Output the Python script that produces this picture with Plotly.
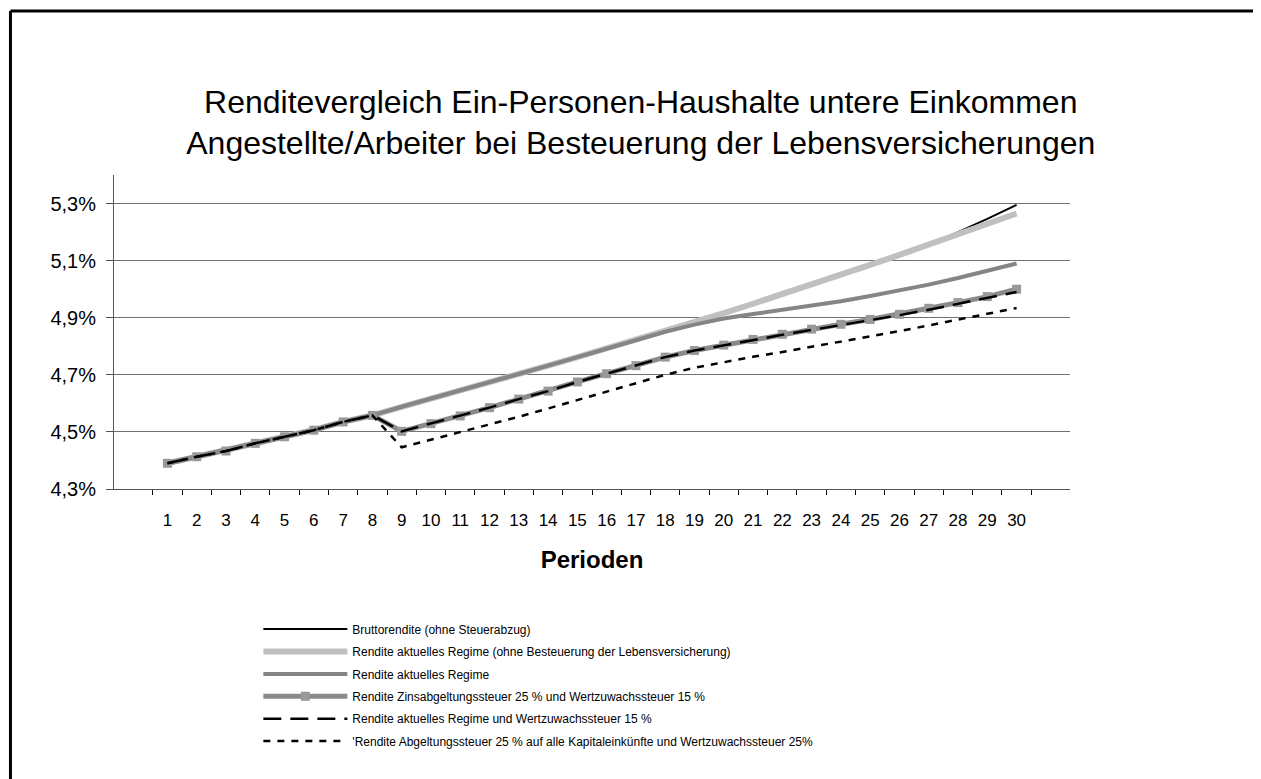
import plotly.graph_objs as go

periods = [str(i) for i in range(1, 31)]

brutto = [4.390, 4.413, 4.435, 4.460, 4.484, 4.507, 4.535, 4.558, 4.588, 4.616,
          4.645, 4.674, 4.703, 4.732, 4.762, 4.792, 4.822, 4.853, 4.884, 4.916,
          4.949, 4.982, 5.016, 5.050, 5.085, 5.120, 5.157, 5.200, 5.246, 5.295]

ohne_lv = [4.390, 4.413, 4.435, 4.460, 4.484, 4.507, 4.535, 4.558, 4.588, 4.616,
           4.645, 4.674, 4.703, 4.732, 4.762, 4.792, 4.822, 4.853, 4.884, 4.916,
           4.949, 4.982, 5.016, 5.050, 5.085, 5.120, 5.155, 5.190, 5.227, 5.265]

aktuell = [4.390, 4.413, 4.435, 4.460, 4.484, 4.507, 4.535, 4.558, 4.588, 4.616,
           4.645, 4.674, 4.703, 4.732, 4.762, 4.792, 4.822, 4.851, 4.876, 4.897,
           4.913, 4.927, 4.942, 4.958, 4.976, 4.995, 5.016, 5.039, 5.063, 5.090]

zins25_wz15 = [4.390, 4.413, 4.433, 4.460, 4.483, 4.506, 4.535, 4.558, 4.502, 4.529,
               4.556, 4.585, 4.615, 4.643, 4.675, 4.704, 4.732, 4.762, 4.785, 4.804,
               4.824, 4.842, 4.860, 4.877, 4.894, 4.912, 4.933, 4.953, 4.974, 5.000]

aktuell_wz15 = [4.390, 4.413, 4.433, 4.460, 4.483, 4.506, 4.535, 4.558, 4.502, 4.529,
                4.556, 4.585, 4.615, 4.643, 4.675, 4.704, 4.732, 4.762, 4.785, 4.804,
                4.822, 4.840, 4.857, 4.874, 4.891, 4.909, 4.928, 4.948, 4.968, 4.990]

abgeltung25 = [4.390, 4.413, 4.433, 4.460, 4.483, 4.506, 4.535, 4.558, 4.446, 4.473,
               4.500, 4.525, 4.553, 4.582, 4.611, 4.640, 4.670, 4.700, 4.725, 4.745,
               4.763, 4.780, 4.798, 4.816, 4.834, 4.853, 4.873, 4.893, 4.913, 4.934]

font = "Liberation Sans, Arial, sans-serif"

fig = go.Figure()

fig.add_trace(go.Scatter(x=periods, y=brutto, mode='lines',
                         line=dict(color='black', width=2),
                         legendgroup='a',
                         name='Bruttorendite (ohne Steuerabzug)'))
fig.add_trace(go.Scatter(x=periods, y=ohne_lv, mode='lines',
                         line=dict(color='#c0c0c0', width=6),
                         legendgroup='b',
                         name='Rendite aktuelles Regime (ohne Besteuerung der Lebensversicherung)'))
fig.add_trace(go.Scatter(x=periods, y=aktuell, mode='lines',
                         line=dict(color='#858585', width=4),
                         legendgroup='c',
                         name='Rendite aktuelles Regime'))
fig.add_trace(go.Scatter(x=periods, y=zins25_wz15, mode='lines+markers',
                         line=dict(color='#8a8a8a', width=5),
                         marker=dict(symbol='square', size=9, color='#999999'),
                         legendgroup='d',
                         name='Rendite Zinsabgeltungssteuer 25 % und Wertzuwachssteuer 15 %'))
fig.add_trace(go.Scatter(x=periods, y=aktuell_wz15, mode='lines',
                         line=dict(color='black', width=2.5, dash='18px,9px'),
                         legendgroup='e',
                         name='Rendite aktuelles Regime und Wertzuwachssteuer 15 %'))
fig.add_trace(go.Scatter(x=periods, y=abgeltung25, mode='lines',
                         line=dict(color='black', width=2.5, dash='7px,7px'),
                         legendgroup='f',
                         name="'Rendite Abgeltungssteuer 25 % auf alle Kapitaleinkünfte und Wertzuwachssteuer 25%"))

fig.update_layout(
    width=1253,
    height=771,
    margin=dict(l=106, r=191, t=167, b=290),
    paper_bgcolor='white',
    plot_bgcolor='white',
    separators=',.',
    font=dict(family=font, color='black'),
    title=dict(
        text='Renditevergleich Ein-Personen-Haushalte untere Einkommen<br>'
             'Angestellte/Arbeiter bei Besteuerung der Lebensversicherungen',
        x=0.505, xref='container', xanchor='center',
        y=0.864, yref='container', yanchor='middle',
        font=dict(family=font, size=32, color='black'),
    ),
    xaxis=dict(
        type='category',
        title=dict(text='<b>Perioden</b>', font=dict(size=24), standoff=21),
        showgrid=False,
        showline=True, linecolor='#555555', linewidth=1,
        ticks='outside', tickson='boundaries', ticklen=5, tickcolor='black',
        ticklabelstandoff=16,
        tickfont=dict(size=17),
        zeroline=False,
    ),
    yaxis=dict(
        range=[4.3, 5.4],
        tick0=4.3, dtick=0.2,
        tickformat='.1f', ticksuffix='%',
        showgrid=True, gridcolor='#707070', gridwidth=1,
        showline=True, linecolor='#555555', linewidth=1,
        ticks='outside', ticklen=7, tickcolor='#555555',
        ticklabelstandoff=6,
        tickfont=dict(size=20),
        zeroline=False,
    ),
    showlegend=True,
    legend=dict(
        x=0.151, y=-0.40, xanchor='left', yanchor='top',
        orientation='v',
        itemwidth=84,
        tracegroupgap=3.4,
        font=dict(family=font, size=12),
        bgcolor='rgba(0,0,0,0)',
    ),
    shapes=[
        dict(type='line', xref='paper', yref='paper',
             x0=-0.1083, x1=1.3, y0=1.522, y1=1.522,
             line=dict(color='black', width=3)),
        dict(type='line', xref='paper', yref='paper',
             x0=-0.1083, x1=-0.1083, y0=1.522, y1=-1.0,
             line=dict(color='black', width=3)),
    ],
)

fig.write_html("out.html")
